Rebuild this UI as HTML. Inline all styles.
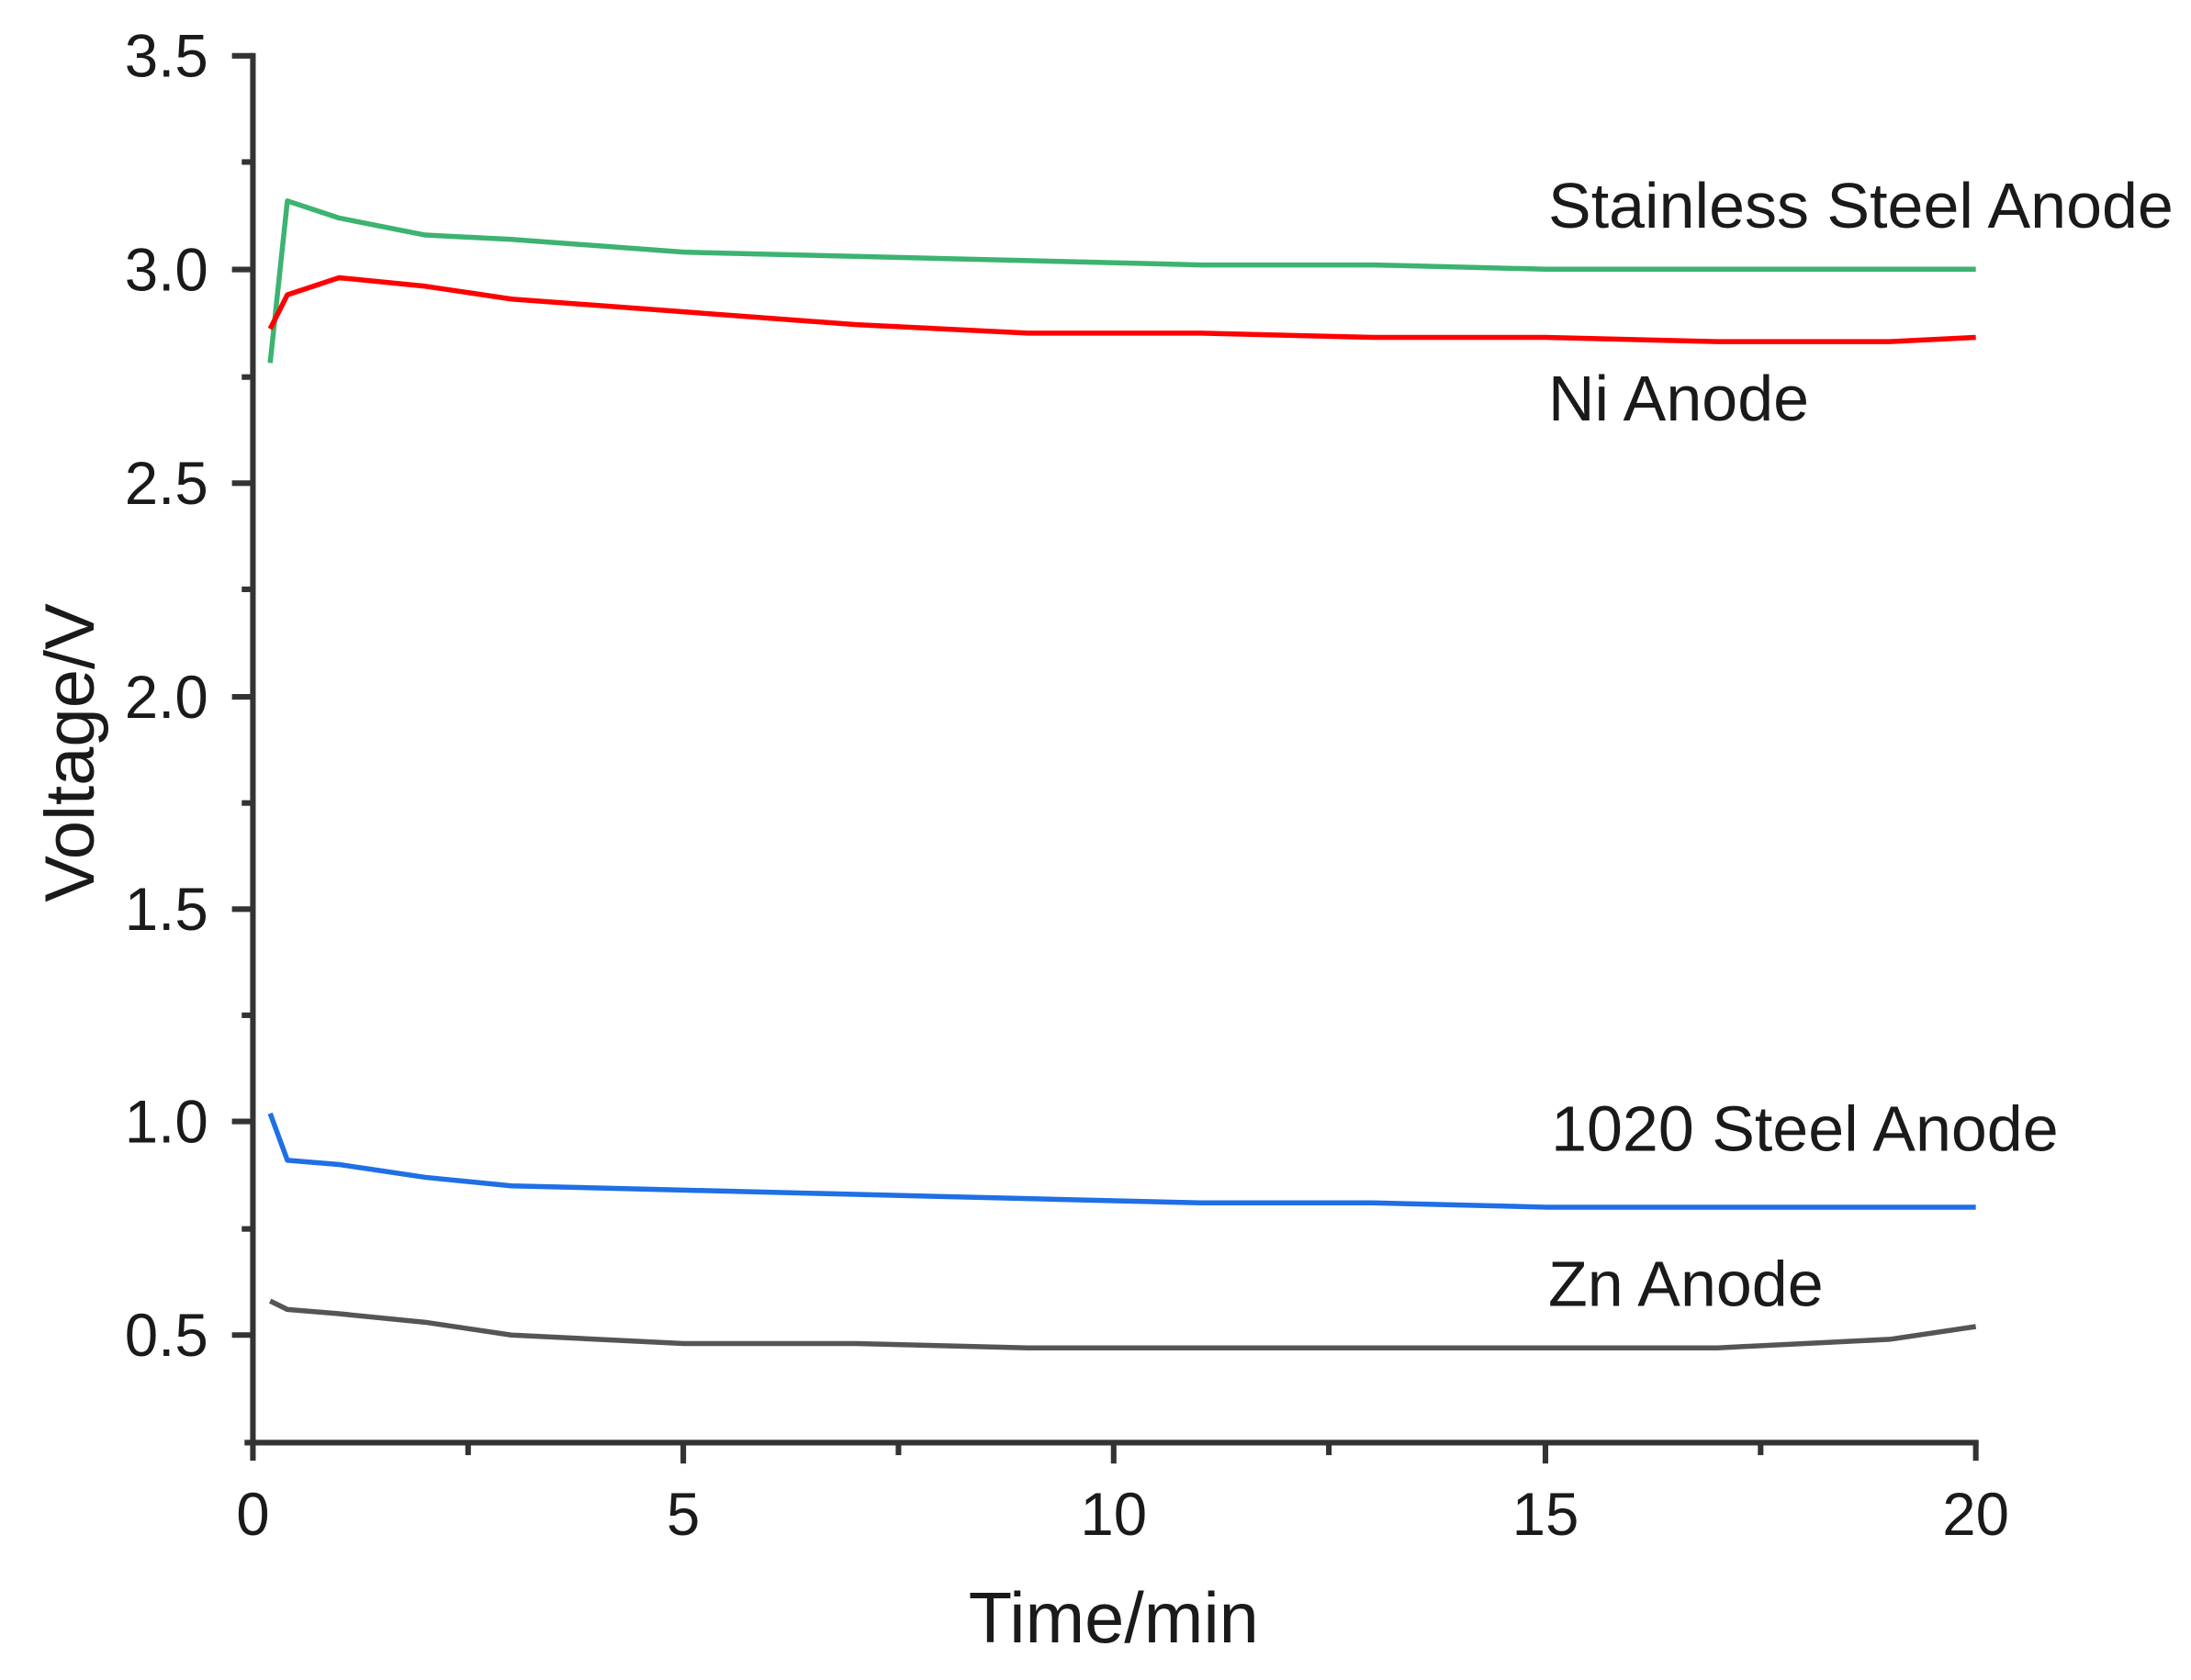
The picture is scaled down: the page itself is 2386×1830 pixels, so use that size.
<!DOCTYPE html>
<html><head><meta charset="utf-8"><style>
html,body{margin:0;padding:0;background:#fff;}
svg{display:block;}
text{font-family:"Liberation Sans",Arial,sans-serif;fill:#1a1a1a;}
</style></head><body>
<svg width="2386" height="1830" viewBox="0 0 1568 1203" preserveAspectRatio="none" xmlns="http://www.w3.org/2000/svg">
<rect width="1568" height="1203" fill="#fff"/>
<g stroke="#333" stroke-width="4" fill="none" stroke-linecap="butt">
<line x1="181" y1="38" x2="181" y2="1046"/>
<line x1="175" y1="1033" x2="1416" y2="1033"/>
<line x1="1414" y1="1033" x2="1414" y2="1046"/>
<line x1="166" y1="40" x2="181" y2="40"/>
<line x1="166" y1="193" x2="181" y2="193"/>
<line x1="166" y1="346" x2="181" y2="346"/>
<line x1="166" y1="499" x2="181" y2="499"/>
<line x1="166" y1="651" x2="181" y2="651"/>
<line x1="166" y1="803" x2="181" y2="803"/>
<line x1="166" y1="956" x2="181" y2="956"/>
<line x1="173" y1="116" x2="181" y2="116"/>
<line x1="173" y1="270" x2="181" y2="270"/>
<line x1="173" y1="422" x2="181" y2="422"/>
<line x1="173" y1="575" x2="181" y2="575"/>
<line x1="173" y1="727" x2="181" y2="727"/>
<line x1="173" y1="880" x2="181" y2="880"/>
<line x1="489" y1="1033" x2="489" y2="1048"/>
<line x1="797" y1="1033" x2="797" y2="1048"/>
<line x1="1106" y1="1033" x2="1106" y2="1048"/>
<line x1="335" y1="1033" x2="335" y2="1042"/>
<line x1="643" y1="1033" x2="643" y2="1042"/>
<line x1="951" y1="1033" x2="951" y2="1042"/>
<line x1="1260" y1="1033" x2="1260" y2="1042"/>
</g>
<g font-size="43" text-anchor="end">
<text x="149" y="55">3.5</text>
<text x="149" y="208">3.0</text>
<text x="149" y="361">2.5</text>
<text x="149" y="514">2.0</text>
<text x="149" y="666">1.5</text>
<text x="149" y="818">1.0</text>
<text x="149" y="971">0.5</text>
</g>
<g font-size="43" text-anchor="middle">
<text x="181" y="1099">0</text>
<text x="489" y="1099">5</text>
<text x="797" y="1099">10</text>
<text x="1106" y="1099">15</text>
<text x="1414" y="1099">20</text>
</g>
<text x="797" y="1176" font-size="51" text-anchor="middle">Time/min</text>
<text transform="translate(67,539) rotate(-90)" font-size="50" text-anchor="middle">Voltage/V</text>
<g font-size="46">
<text x="1108" y="163">Stainless Steel Anode</text>
<text x="1108" y="301">Ni Anode</text>
<text x="1110" y="824">1020 Steel Anode</text>
<text x="1108" y="935">Zn Anode</text>
</g>
<g fill="none" stroke-width="5.5" stroke-linejoin="round" transform="translate(181,956) scale(61.65,-305.3) translate(0,-0.5)">
<polyline vector-effect="non-scaling-stroke" stroke="#3cb371" points="0.2,2.78 0.4,3.16 1,3.12 2,3.08 3,3.07 5,3.04 7,3.03 9,3.02 11,3.01 13,3.01 15,3.0 17,3.0 20,3.0"/>
<polyline vector-effect="non-scaling-stroke" stroke="#ff0000" points="0.2,2.86 0.4,2.94 1,2.98 2,2.96 3,2.93 5,2.9 7,2.87 9,2.85 11,2.85 13,2.84 15,2.84 17,2.83 19,2.83 20,2.84"/>
<polyline vector-effect="non-scaling-stroke" stroke="#1f6fe5" points="0.2,1.02 0.4,0.91 1,0.9 2,0.87 3,0.85 5,0.84 7,0.83 9,0.82 11,0.81 13,0.81 15,0.8 20,0.8"/>
<polyline vector-effect="non-scaling-stroke" stroke="#555" points="0.2,0.58 0.4,0.56 1,0.55 2,0.53 3,0.5 5,0.48 7,0.48 9,0.47 15,0.47 17,0.47 19,0.49 20,0.52"/>
</g>
</svg>
</body></html>
